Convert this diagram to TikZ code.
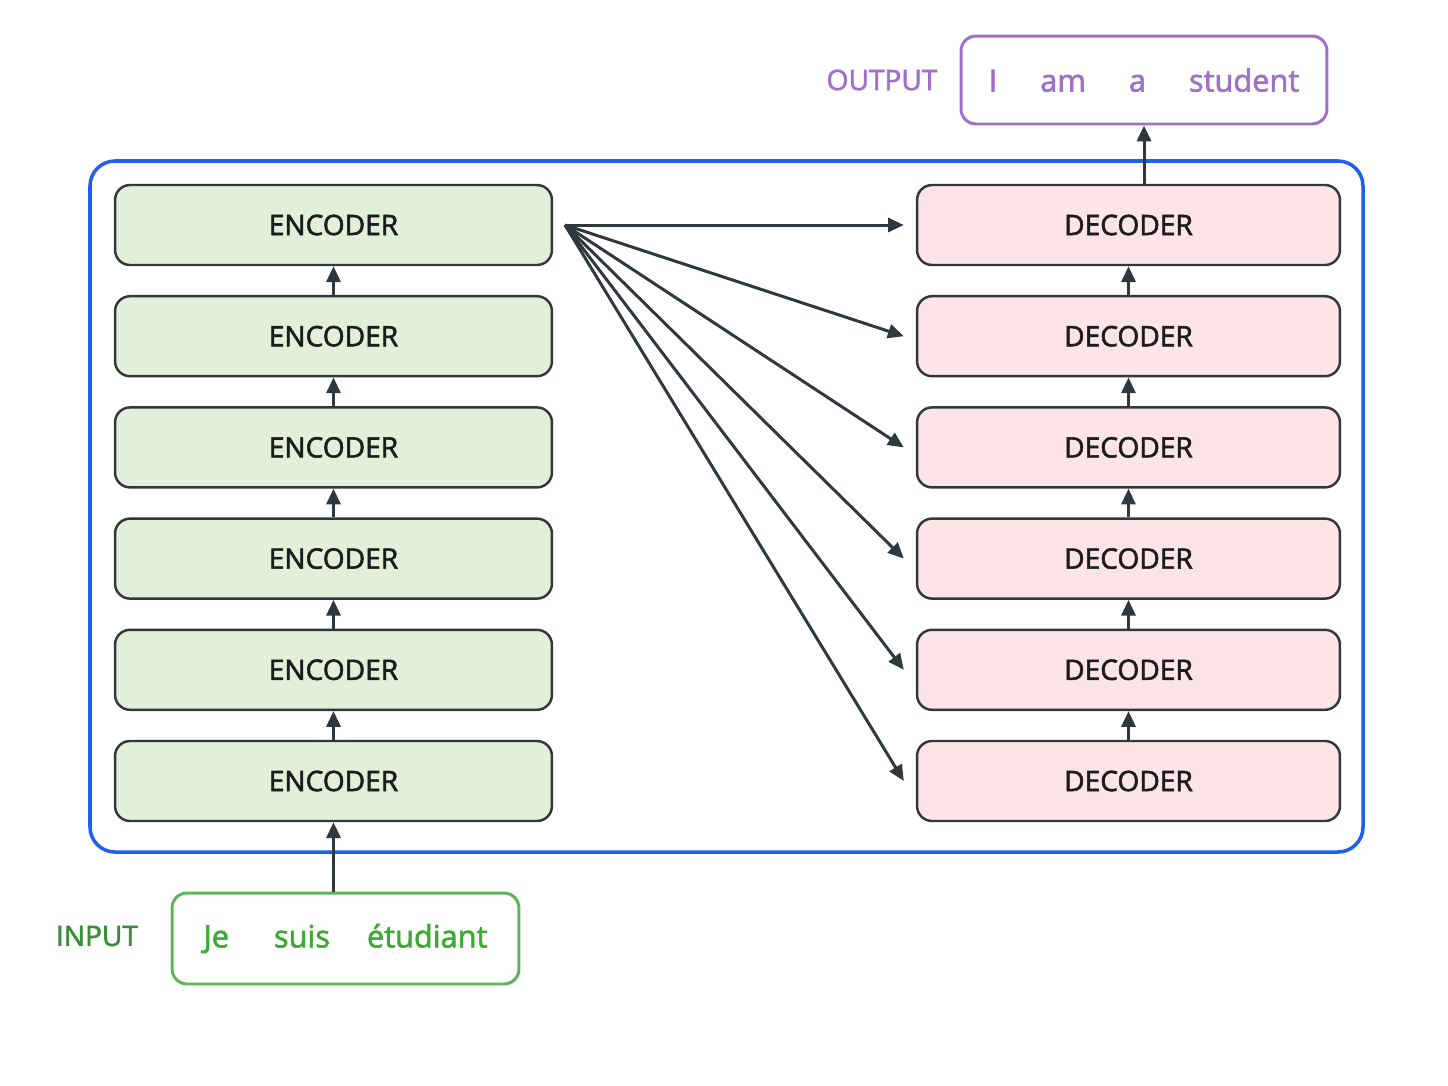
\documentclass[tikz,border=0pt]{standalone}
\usepackage{fontspec}
\setmainfont{Open Sans}
\newfontfamily\semifont{Open Sans}[FakeBold=2]
\usetikzlibrary{arrows.meta}

\begin{document}
\begin{tikzpicture}[x=0.02cm, y=-0.02cm,
    block/.style={draw=myline, line width=1.4pt, rounded corners=0.3cm,
        minimum height=1.6cm, font=\semifont\fontsize{16}{19}\selectfont, text=mytext},
    encbox/.style={block, fill=myenc, minimum width=8.74cm},
    decbox/.style={block, fill=mydec, minimum width=8.46cm},
    wordbox/.style={line width=1.7pt, rounded corners=0.3cm, font=\semifont\fontsize{17.5}{20}\selectfont},
    lbl/.style={font=\semifont\fontsize{16}{19}\selectfont},
    link/.style={myline, line width=1.7pt, -{Triangle[length=9pt,width=8pt]}}]
    \definecolor{myline}{RGB}{50,55,62}
    \definecolor{mytext}{RGB}{28,28,28}
    \definecolor{myenc}{RGB}{226,240,217}
    \definecolor{mydec}{RGB}{252,228,233}
    \definecolor{myblue}{RGB}{30,95,240}
    \definecolor{myout}{RGB}{160,112,200}
    \definecolor{myin}{RGB}{95,180,90}
    \definecolor{myinw}{RGB}{60,170,50}
    \definecolor{myinl}{RGB}{60,140,60}

    \useasboundingbox (0,0) rectangle (1448,1086);

    \draw[myblue, line width=2pt, rounded corners=0.5cm] (90,161) rectangle (1363,852);

    \foreach \i in {1,...,6} {
        \node[encbox] (e\i) at (333.5, {225+(\i-1)*111.2}) {ENCODER};
        \node[decbox] (d\i) at (1128.5, {225+(\i-1)*111.2}) {DECODER};
    }

    \node[wordbox, draw=myout, text=myout, minimum width=7.32cm, minimum height=1.76cm]
        (out) at (1144,80) {I\hspace{0.86cm}am\hspace{0.86cm}a\hspace{0.86cm}student};
    \node[lbl, text=myout] (outlbl) at (882,80) {OUTPUT};

    \node[wordbox, draw=myin, text=myinw, minimum width=6.94cm, minimum height=1.82cm]
        (in) at (345.5,938.5) {Je\hspace{0.9cm}suis\hspace{0.74cm}étudiant};
    \node[lbl, text=myinl] (inlbl) at (97,936) {INPUT};

    \foreach \i [evaluate=\i as \j using int(\i+1)] in {1,...,5} {
        \draw[link] (e\j.north) -- (e\i.south);
        \draw[link] (d\j.north) -- (d\i.south);
    }
    \draw[link] (e6.south |- in.north) -- (e6.south);
    \draw[link] (out.south |- d1.north) -- (out.south);

    \coordinate (src) at (565,225);
    \foreach \i in {1,...,6}
        \draw[link] (src) -- ([xshift=-0.24cm]d\i.west);
\end{tikzpicture}
\end{document}
